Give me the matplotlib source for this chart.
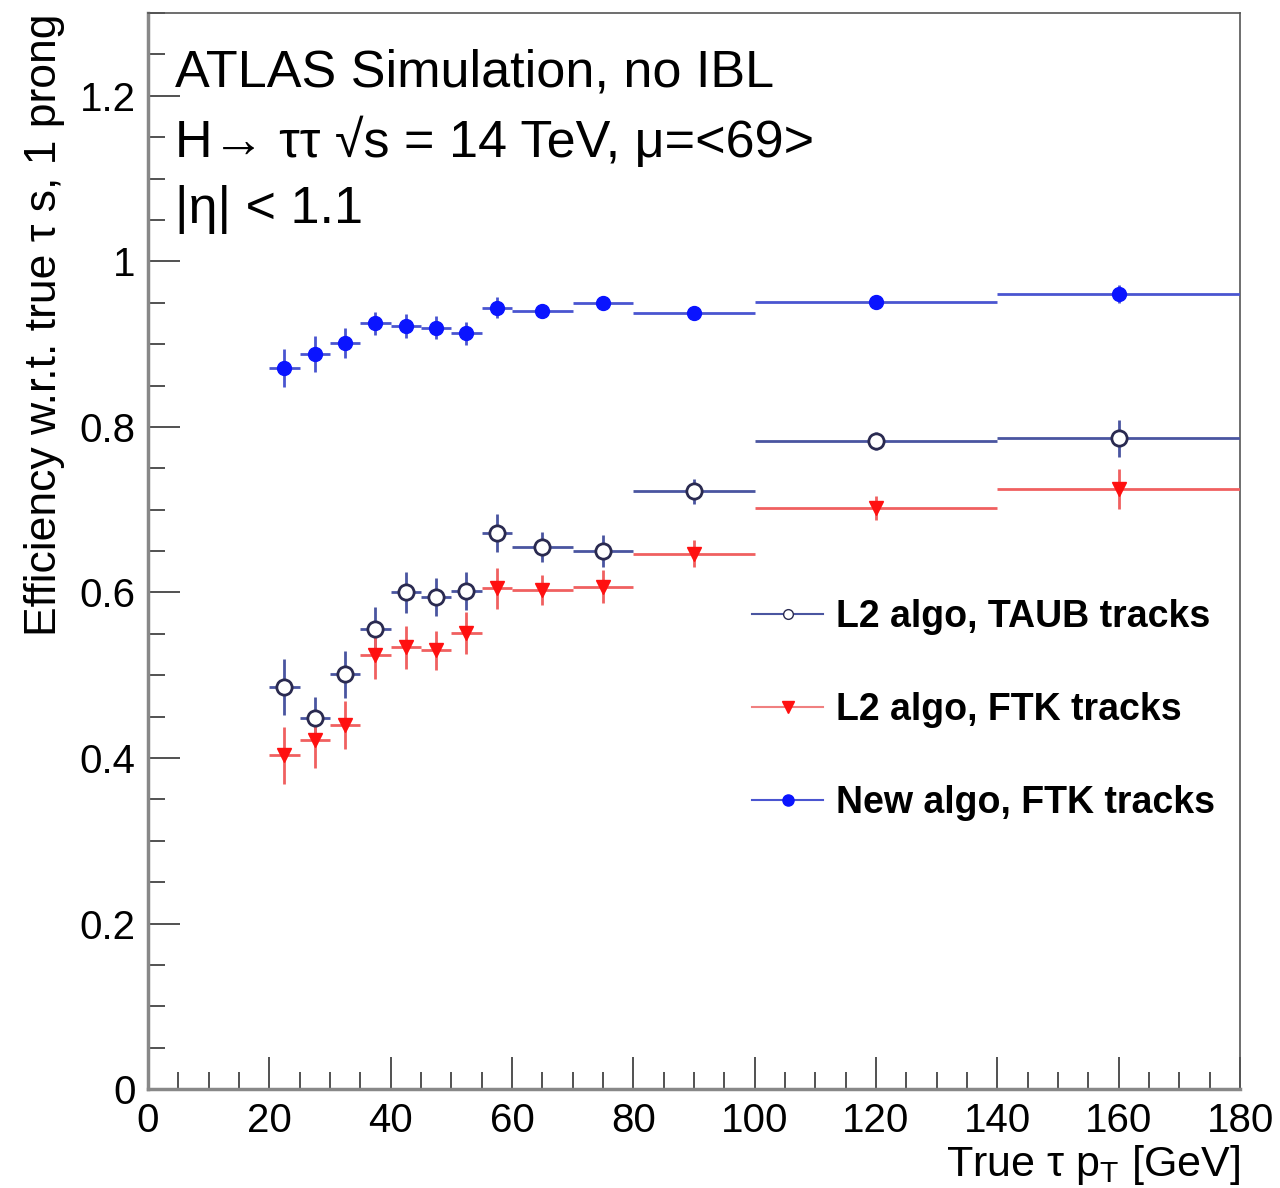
import matplotlib
matplotlib.use("Agg")
import matplotlib.pyplot as plt
from matplotlib.lines import Line2D
from matplotlib.ticker import MultipleLocator, FuncFormatter
import numpy as np

plt.rcParams['font.family'] = ['Liberation Sans', 'DejaVu Sans']
plt.rcParams['mathtext.fontset'] = 'custom'
plt.rcParams['mathtext.rm'] = 'Liberation Sans'
plt.rcParams['mathtext.it'] = 'Liberation Sans:italic'

# bin edges in true tau pT [GeV]
bin_lo = [20, 25, 30, 35, 40, 45, 50, 55, 60, 70, 80, 100, 140]
bin_hi = [25, 30, 35, 40, 45, 50, 55, 60, 70, 80, 100, 140, 180]

# L2 algo, TAUB tracks
taub_eff = [0.486, 0.448, 0.501, 0.556, 0.600, 0.595, 0.602, 0.672, 0.655, 0.650, 0.722, 0.783, 0.786]
taub_err = [0.034, 0.026, 0.028, 0.026, 0.025, 0.023, 0.023, 0.023, 0.018, 0.019, 0.015, 0.011, 0.022]

# L2 algo, FTK tracks
ftk_eff = [0.403, 0.422, 0.440, 0.524, 0.534, 0.530, 0.551, 0.605, 0.603, 0.607, 0.647, 0.702, 0.725]
ftk_err = [0.035, 0.034, 0.029, 0.028, 0.026, 0.024, 0.025, 0.025, 0.018, 0.020, 0.016, 0.014, 0.024]

# New algo, FTK tracks
new_eff = [0.871, 0.888, 0.901, 0.925, 0.922, 0.920, 0.913, 0.944, 0.940, 0.950, 0.938, 0.951, 0.961]
new_err = [0.023, 0.022, 0.018, 0.014, 0.015, 0.014, 0.014, 0.013, 0.006, 0.005, 0.004, 0.005, 0.011]

lo = np.array(bin_lo, dtype=float)
hi = np.array(bin_hi, dtype=float)
xc = (lo + hi) / 2
xw = (hi - lo) / 2

fig = plt.figure(figsize=(12.8, 11.88), dpi=100)
ax = fig.add_axes([0.1156, 0.0833, 0.8532, 0.9057])

lw = 2.0
# TAUB, open circles
ax.errorbar(xc, taub_eff, xerr=xw, yerr=taub_err, fmt='o', color='#4a55a0',
            ecolor='#4a55a0', elinewidth=lw, capsize=0,
            markerfacecolor='white', markeredgecolor='#2a2a50',
            markeredgewidth=2.0, markersize=11, zorder=3)
# FTK, red triangles
ax.errorbar(xc, ftk_eff, xerr=xw, yerr=ftk_err, fmt='v', color='#f06060',
            ecolor='#f06060', elinewidth=lw, capsize=0,
            markerfacecolor='#ff1010', markeredgecolor='#ff1010',
            markersize=10, zorder=3)
# new algo, blue dots
ax.errorbar(xc, new_eff, xerr=xw, yerr=new_err, fmt='o', color='#4a55d0',
            ecolor='#4a55d0', elinewidth=lw, capsize=0,
            markerfacecolor='#0a14ff', markeredgecolor='#0a14ff',
            markersize=10, zorder=3)

ax.set_xlim(0, 180)
ax.set_ylim(0, 1.3)
ax.xaxis.set_major_locator(MultipleLocator(20))
ax.xaxis.set_minor_locator(MultipleLocator(5))
ax.yaxis.set_major_locator(MultipleLocator(0.2))
ax.yaxis.set_minor_locator(MultipleLocator(0.05))
ax.yaxis.set_major_formatter(FuncFormatter(lambda v, p: '%g' % round(v, 2)))
ax.tick_params(which='both', direction='in', top=False, right=False,
               labelsize=29, color='#333333')
ax.tick_params(which='major', length=23, width=1.2, pad=9)
ax.tick_params(which='minor', length=12, width=1.2)

for s in ['left', 'bottom']:
    ax.spines[s].set_color('#888888')
    ax.spines[s].set_linewidth(2.5)
for s in ['top', 'right']:
    ax.spines[s].set_color('#555555')
    ax.spines[s].set_linewidth(1.2)

ax.set_ylabel('Efficiency w.r.t. true τ s, 1 prong', fontsize=32, loc='top')
ax.yaxis.set_label_coords(-0.076, 1.0)
ax.set_xlabel('True τ p$_\\mathrm{T}$ [GeV]', fontsize=31, loc='right')
ax.xaxis.set_label_coords(1.0, -0.05)

ax.text(0.025, 0.967, 'ATLAS Simulation, no IBL', transform=ax.transAxes,
        fontsize=37.5, va='top', ha='left')
ax.text(0.025, 0.904, 'H→ ττ √s = 14 TeV, μ=<69>', transform=ax.transAxes,
        fontsize=37.5, va='top', ha='left')
ax.text(0.025, 0.840, '|η| < 1.1', transform=ax.transAxes,
        fontsize=37.5, va='top', ha='left')

handles = [
    Line2D([], [], color='#4a55a0', lw=1.5, marker='o', markersize=7,
           markerfacecolor='white', markeredgecolor='#2a2a50'),
    Line2D([], [], color='#f08080', lw=1.5, marker='v', markersize=8,
           markerfacecolor='#ff1010', markeredgecolor='#ff1010'),
    Line2D([], [], color='#4a55d0', lw=1.5, marker='o', markersize=8,
           markerfacecolor='#0a14ff', markeredgecolor='#0a14ff'),
]
labels = ['L2 algo, TAUB tracks', 'L2 algo, FTK tracks', 'New algo, FTK tracks']
leg = ax.legend(handles, labels, loc='upper left', bbox_to_anchor=(0.553, 0.455),
                frameon=False, prop={'size': 27, 'weight': 'bold'},
                handlelength=1.9, handletextpad=0.35, labelspacing=1.52,
                borderpad=0, borderaxespad=0)

fig.savefig('out.png', dpi=100)
